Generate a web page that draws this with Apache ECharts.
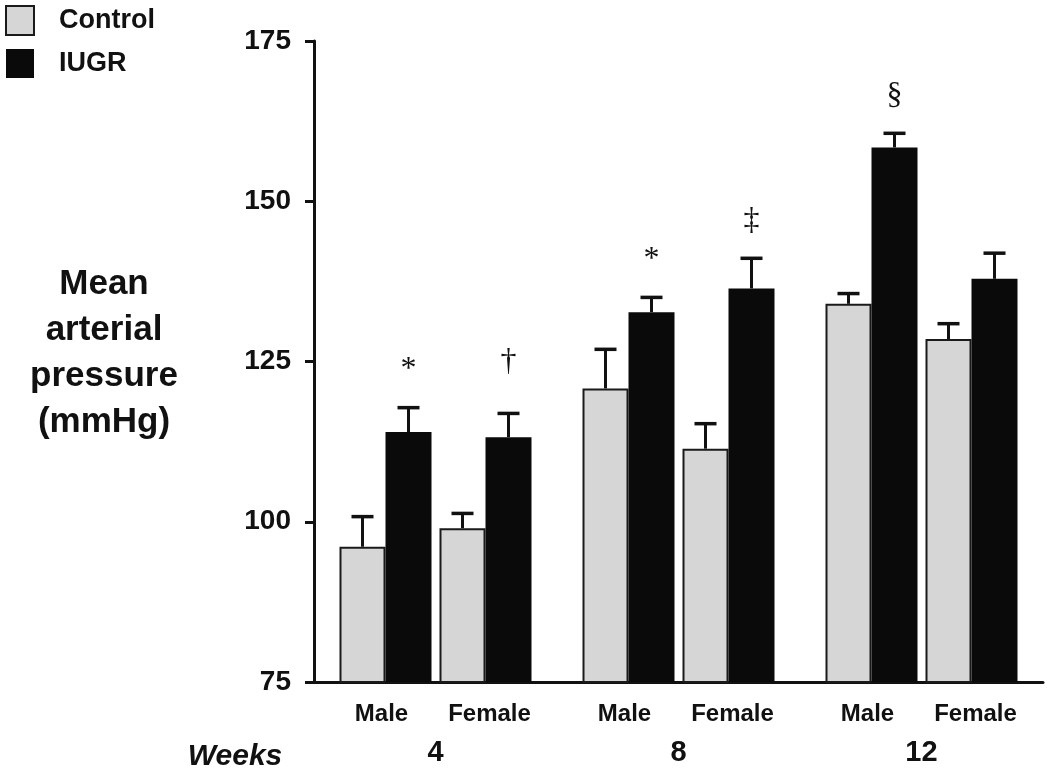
<!DOCTYPE html>
<html>
<head>
<meta charset="utf-8">
<script src="https://cdn.jsdelivr.net/npm/echarts@6/dist/echarts.min.js"></script>
<style>html,body{margin:0;padding:0;background:#fff}#c{width:1050px;height:770px}</style>
</head>
<body>
<div id="c"></div>
<script>
// ---- data ----
const weekLabels = ['4', '8', '12'];
const sexLabels = ['Male', 'Female'];
const seriesNames = ['Control', 'IUGR'];
const yTicks = [75, 100, 125, 150, 175];

const controlMaleMean   = [96.1, 120.8, 134.0];
const controlMaleSEM    = [4.7, 6.1, 1.6];
const iugrMaleMean      = [114.0, 132.7, 158.4];
const iugrMaleSEM       = [3.8, 2.3, 2.2];
const controlFemaleMean = [99.0, 111.4, 128.5];
const controlFemaleSEM  = [2.3, 3.9, 2.4];
const iugrFemaleMean    = [113.2, 136.4, 137.9];
const iugrFemaleSEM     = [3.7, 4.7, 4.0];

const iugrMaleSig   = ['*', '*', '§'];
const iugrFemaleSig = ['†', '‡', ''];

const yTitle = 'Mean\narterial\npressure\n(mmHg)';
const xTitle = 'Weeks';

// ---- styles ----
const FONT = 'Liberation Sans';
const INK = '#111';
const CONTROL_FILL = '#d6d6d6';
const IUGR_FILL = '#0a0a0a';
const BAR_W = 46;
const MID_GAP = 8;
const SIG_LIFT = { '*': 38, '§': 38, '‡': 38, '†': 52 };

const groups = [
  { name: seriesNames[0], mean: controlMaleMean,   sem: controlMaleSEM,   sig: null,          color: CONTROL_FILL },
  { name: seriesNames[1], mean: iugrMaleMean,      sem: iugrMaleSEM,      sig: iugrMaleSig,   color: IUGR_FILL },
  { name: seriesNames[0], mean: controlFemaleMean, sem: controlFemaleSEM, sig: null,          color: CONTROL_FILL },
  { name: seriesNames[1], mean: iugrFemaleMean,    sem: iugrFemaleSEM,    sig: iugrFemaleSig, color: IUGR_FILL }
];
// offset of each bar centre from the category centre (same constants as the bar layout)
const slotOffsets = [
  -(MID_GAP / 2 + BAR_W * 1.5),
  -(MID_GAP / 2 + BAR_W * 0.5),
  (MID_GAP / 2 + BAR_W * 0.5),
  (MID_GAP / 2 + BAR_W * 1.5)
];

function barSeries(g) {
  const isControl = g.color === CONTROL_FILL;
  return {
    type: 'bar',
    name: g.name,
    data: g.mean,
    barWidth: BAR_W,
    barGap: '0%',
    itemStyle: {
      color: g.color,
      borderColor: isControl ? '#1a1a1a' : IUGR_FILL,
      borderWidth: isControl ? 2 : 0
    },
    emphasis: { disabled: true },
    z: 2
  };
}

const errData = [];
const errSig = [];
groups.forEach((g, slot) => {
  g.mean.forEach((m, i) => {
    errData.push([i, slot, m + g.sem[i], m]);
    errSig.push(g.sig ? g.sig[i] : '');
  });
});

const series = [
  barSeries(groups[0]),
  barSeries(groups[1]),
  {
    type: 'bar', name: '', data: [null, null, null], barWidth: MID_GAP, barGap: '0%',
    itemStyle: { color: 'transparent' }, silent: true
  },
  barSeries(groups[2]),
  barSeries(groups[3]),
  {
    type: 'custom',
    name: 'err',
    data: errData,
    encode: { x: 0, y: 2 },
    silent: true,
    z: 5,
    renderItem: function (params, api) {
      const cat = api.value(0);
      const slot = api.value(1);
      const hi = api.value(2);
      const mean = api.value(3);
      const base = api.coord([cat, mean]);
      const top = api.coord([cat, hi]);
      const x = base[0] + slotOffsets[slot];
      const children = [
        { type: 'line', shape: { x1: x, y1: base[1], x2: x, y2: top[1] },
          style: { stroke: INK, lineWidth: 3 } },
        { type: 'line', shape: { x1: x - 11, y1: top[1], x2: x + 11, y2: top[1] },
          style: { stroke: INK, lineWidth: 3.5 } }
      ];
      const s = errSig[params.dataIndex];
      if (s) {
        children.push({
          type: 'text',
          style: {
            text: s, x: x, y: top[1] - (SIG_LIFT[s] || 38), align: 'center', verticalAlign: 'middle',
            fontFamily: 'Liberation Serif', fontSize: 32, fill: INK
          }
        });
      }
      return { type: 'group', children: children };
    }
  }
];

const chart = echarts.init(document.getElementById('c'), null, { renderer: 'canvas' });
chart.setOption({
  animation: false,
  backgroundColor: '#fff',
  textStyle: { fontFamily: FONT },
  legend: {
    data: seriesNames,
    orient: 'vertical',
    left: 0, top: 0,
    itemWidth: 28, itemHeight: 29, itemGap: 13,
    icon: 'rect',
    selectedMode: false,
    textStyle: { fontFamily: FONT, fontSize: 27, fontWeight: 'bold', color: INK, padding: [0, 0, 0, 20] }
  },
  grid: { left: 314, right: 7, top: 41, bottom: 88, containLabel: false },
  xAxis: {
    type: 'category',
    data: weekLabels,
    axisLine: { lineStyle: { color: INK, width: 3 } },
    axisTick: { show: false },
    axisLabel: {
      interval: 0,
      margin: 14,
      formatter: function (v) {
        return '{m|' + sexLabels[0] + '}{f|' + sexLabels[1] + '}\n{w|' + v + '}';
      },
      rich: {
        m: { width: 108, align: 'center', fontFamily: FONT, fontSize: 24, fontWeight: 'bold', color: INK, lineHeight: 36 },
        f: { width: 108, align: 'center', fontFamily: FONT, fontSize: 24, fontWeight: 'bold', color: INK, lineHeight: 36 },
        w: { fontFamily: FONT, fontSize: 29, fontWeight: 'bold', color: INK, lineHeight: 42 }
      }
    }
  },
  yAxis: {
    type: 'value',
    min: yTicks[0],
    max: yTicks[yTicks.length - 1],
    interval: yTicks[1] - yTicks[0],
    axisLine: { show: true, lineStyle: { color: INK, width: 3 } },
    axisTick: { show: true, length: 9, lineStyle: { color: INK, width: 3 } },
    splitLine: { show: false },
    axisLabel: { margin: 23, fontFamily: FONT, fontSize: 28, fontWeight: 'bold', color: INK }
  },
  graphic: [
    {
      type: 'text', x: 104, y: 353,
      style: {
        text: yTitle, align: 'center', verticalAlign: 'middle', lineHeight: 46,
        fontFamily: FONT, fontSize: 35, fontWeight: 'bold', fill: INK
      }
    },
    {
      type: 'text', x: 235, y: 757,
      style: {
        text: xTitle, align: 'center', verticalAlign: 'middle',
        fontFamily: FONT, fontSize: 30, fontWeight: 'bold', fontStyle: 'italic', fill: INK
      }
    }
  ],
  series: series
});
</script>
</body>
</html>
